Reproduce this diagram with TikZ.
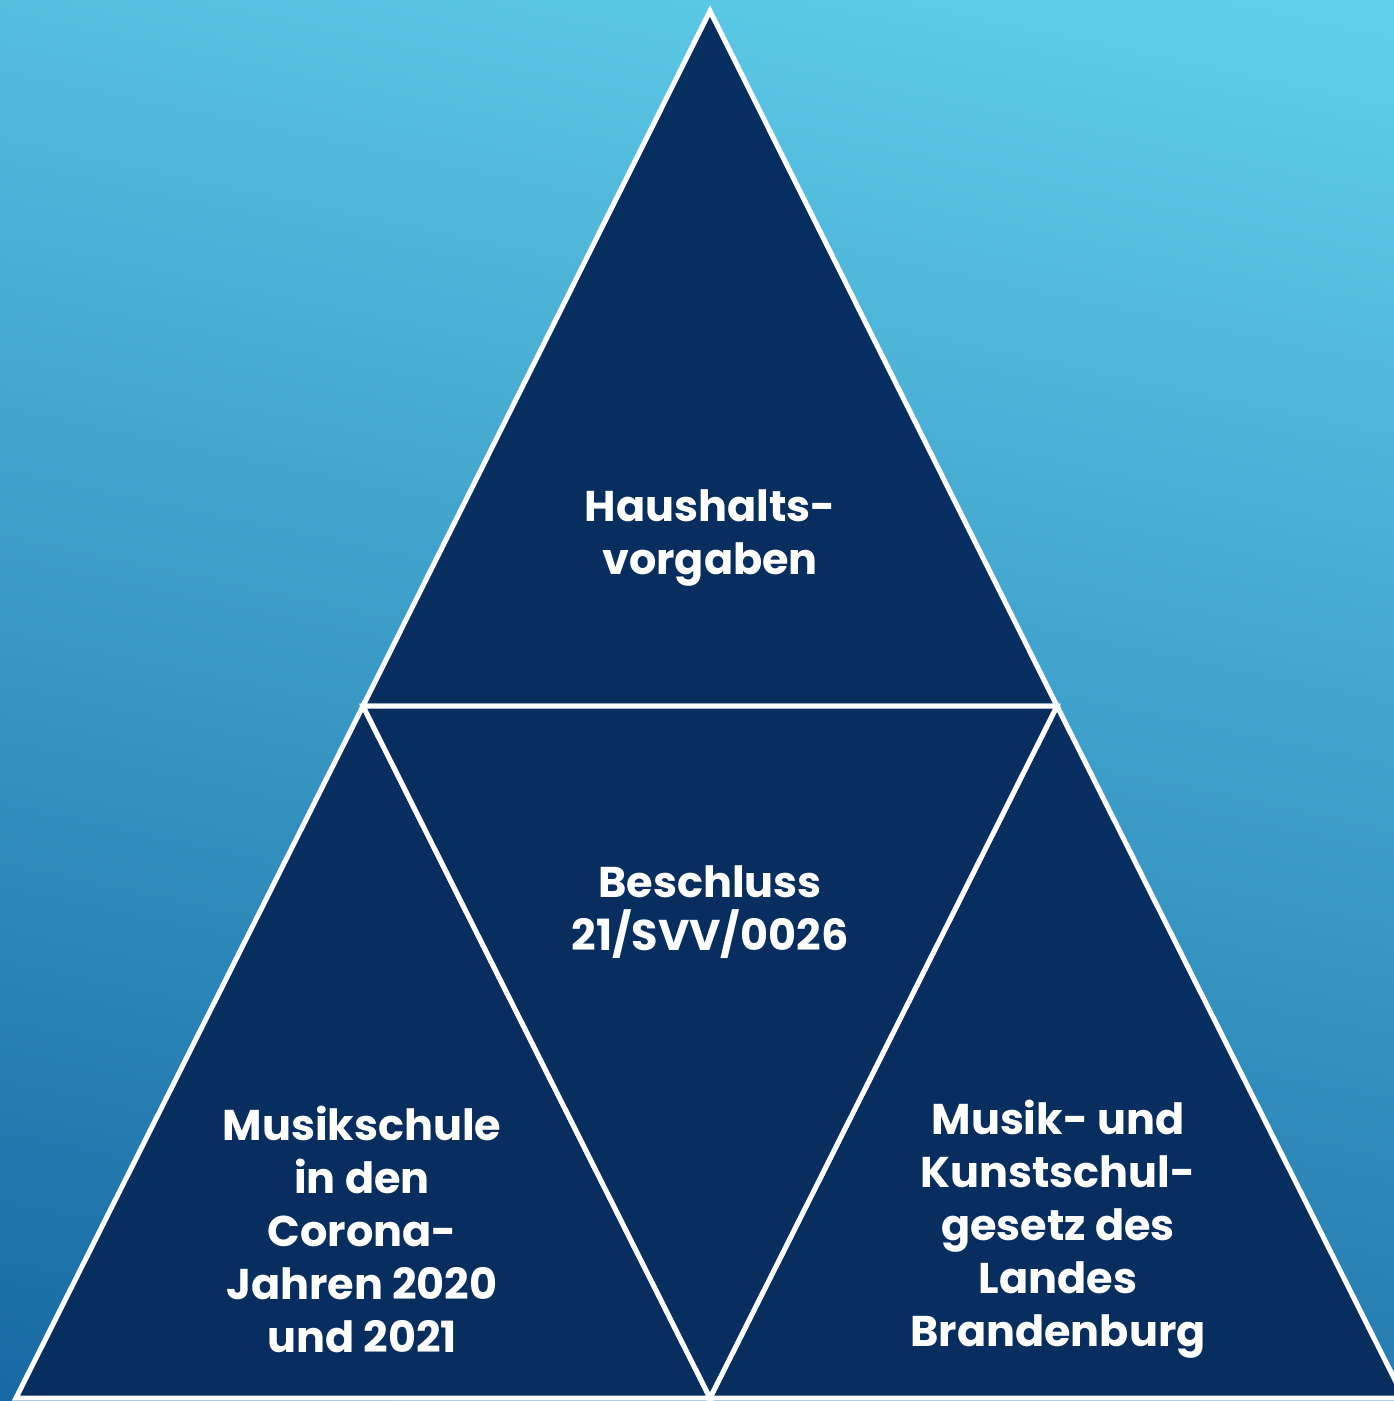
\documentclass[tikz,border=0pt]{standalone}
\usepackage{fontspec}
\setmainfont{Poppins}
\definecolor{navy}{HTML}{082E5F}
\definecolor{bgtop}{HTML}{64D4EF}
\definecolor{bgbot}{HTML}{1465A0}
\begin{document}
\begin{tikzpicture}[x=1pt,y=-1pt,
  tri/.style={fill=navy,draw=white,line width=5pt,line join=miter},
  lbl/.style={text=white,align=center,font=\fontsize{43}{53}\selectfont\bfseries}]
\useasboundingbox (0,0) rectangle (1394,1401);
\shade[top color=bgtop,bottom color=bgbot,shading angle=-12] (-200,-200) rectangle (1594,1601);
\clip (0,0) rectangle (1394,1401);
\coordinate (A) at (710,11);
\coordinate (L) at (16,1398);
\coordinate (R) at (1404,1398);
\coordinate (ML) at (363,706);
\coordinate (MR) at (1057,706);
\coordinate (MB) at (710,1398);
\filldraw[tri] (A) -- (MR) -- (ML) -- cycle;
\filldraw[tri] (ML) -- (MB) -- (L) -- cycle;
\filldraw[tri] (MR) -- (R) -- (MB) -- cycle;
\filldraw[tri] (ML) -- (MR) -- (MB) -- cycle;
\node[lbl] (t1) at (710,538) {Haushalts-\\vorgaben};
\node[lbl] (t2) at (710,912) {Beschluss\\21/SVV/0026};
\node[lbl] (t3) at (362,1229) {Musikschule\\in den\\Corona-\\Jahren 2020\\und 2021};
\node[lbl] (t4) at (1058,1229) {Musik- und\\Kunstschul-\\gesetz des\\Landes\\Brandenburg};
\end{tikzpicture}
\end{document}
